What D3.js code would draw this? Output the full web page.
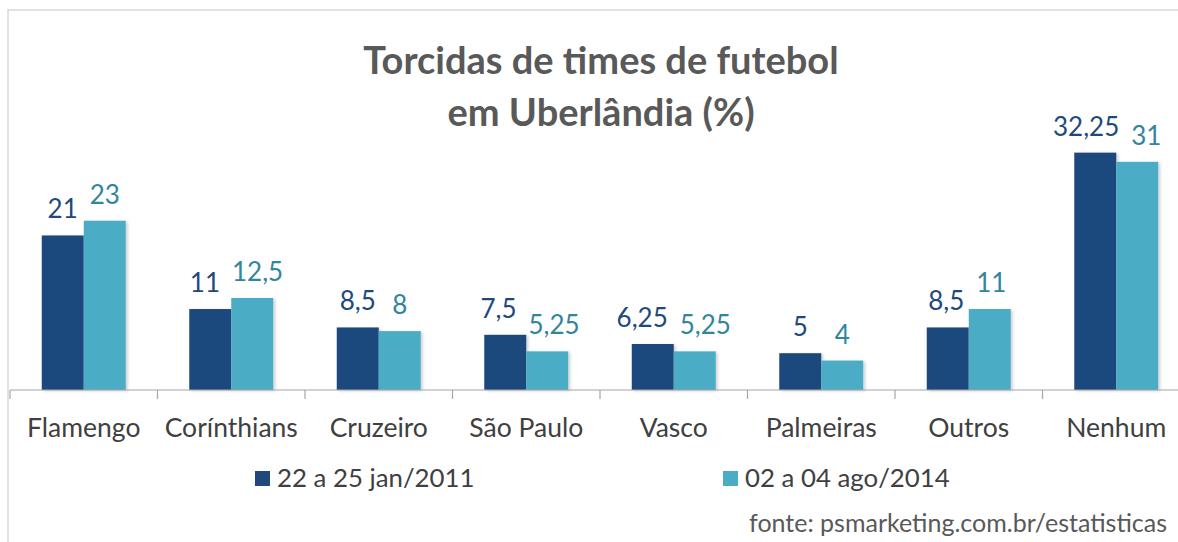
<!DOCTYPE html>
<html>
<head>
<meta charset="utf-8">
<script src="https://cdn.jsdelivr.net/npm/d3@7"></script>
<style>
    body { margin: 0; background: #ffffff; }
    svg { display: block; font-family: Lato, "Noto Sans", sans-serif; }
</style>
</head>
<body>
<div id="chart"></div>
<script>

// data
let categories = ["Flamengo", "Corínthians", "Cruzeiro", "São Paulo", "Vasco", "Palmeiras", "Outros", "Nenhum"];
let seriesNames = ["22 a 25 jan/2011", "02 a 04 ago/2014"];
let values2011 = [21, 11, 8.5, 7.5, 6.25, 5, 8.5, 32.25];
let values2014 = [23, 12.5, 8, 5.25, 5.25, 4, 11, 31];

let barColors = ["#1F497D", "#4BACC6"];
let labelColors = ["#1F497D", "#31859C"];

let width = 1178, height = 542;
let baseline = 390;

let svg = d3.select("#chart").append("svg")
    .attr("width", width)
    .attr("height", height);

// soft shadow like the excel bars
let defs = svg.append("defs");
defs.append("filter")
    .attr("id", "shadow")
    .attr("x", "-20%").attr("y", "-10%")
    .attr("width", "150%").attr("height", "130%")
    .append("feDropShadow")
    .attr("dx", 2).attr("dy", 1)
    .attr("stdDeviation", 1.5)
    .attr("flood-color", "#000")
    .attr("flood-opacity", 0.18);

// chart frame
svg.append("path")
    .attr("d", "M8," + height + " V10 H" + width)
    .attr("fill", "none")
    .attr("stroke", "#d9d9d9")
    .attr("stroke-width", 1.5);

// title
let title = svg.append("text")
    .attr("text-anchor", "middle")
    .attr("fill", "#595959")
    .style("font-size", "38px")
    .style("font-weight", "bold");
title.append("tspan").attr("x", 601).attr("y", 74).text("Torcidas de times de futebol");
title.append("tspan").attr("x", 601).attr("y", 126).text("em Uberlândia (%)");

// scales
let x0 = d3.scaleBand()
    .domain(categories)
    .range([10, 1190])
    .paddingInner(0)
    .paddingOuter(0);

let x1 = d3.scaleBand()
    .domain(seriesNames)
    .range([0, x0.bandwidth()])
    .paddingInner(0)
    .paddingOuter(0.756);

let y = d3.scaleLinear()
    .domain([0, 35])
    .range([baseline, baseline - 7.36 * 35]);

let rows = categories.map(function(c, i) {
    return { cat: c, vals: [values2011[i], values2014[i]] };
});

// bars
let groups = svg.selectAll(".group")
    .data(rows)
    .enter().append("g")
    .attr("class", "group")
    .attr("transform", d => "translate(" + x0(d.cat) + ",0)");

groups.selectAll("rect")
    .data(d => d.vals.map((v, j) => ({ s: seriesNames[j], v: v, j: j })))
    .enter().append("rect")
    .attr("x", d => x1(d.s))
    .attr("y", d => y(d.v))
    .attr("width", x1.bandwidth())
    .attr("height", d => y(0) - y(d.v))
    .attr("fill", d => barColors[d.j])
    .attr("filter", "url(#shadow)");

// value labels, pushed apart when the pair would collide
groups.each(function(d) {
    let g = d3.select(this);
    let labels = d.vals.map(function(v, j) {
        return g.append("text")
            .attr("text-anchor", "middle")
            .attr("fill", labelColors[j])
            .style("font-size", "26px")
            .attr("x", x1(seriesNames[j]) + x1.bandwidth() / 2)
            .attr("y", y(v) - 17)
            .text(String(v).replace(".", ","));
    });
    let c0 = x1(seriesNames[0]) + x1.bandwidth() / 2;
    let c1 = x1(seriesNames[1]) + x1.bandwidth() / 2;
    let w0 = labels[0].node().getComputedTextLength();
    let w1 = labels[1].node().getComputedTextLength();
    let overlap = (c0 + w0 / 2 + 12) - (c1 - w1 / 2);
    if (overlap > 0) {
        labels[0].attr("x", c0 - overlap / 2);
        labels[1].attr("x", c1 + overlap / 2);
    }
});

// x axis: line plus ticks at the category boundaries
let axis = svg.append("g").attr("class", "x-axis");
axis.append("line")
    .attr("x1", 10).attr("x2", width)
    .attr("y1", baseline).attr("y2", baseline)
    .attr("stroke", "#a6a6a6")
    .attr("stroke-width", 1.2);

axis.selectAll(".tick")
    .data(categories)
    .enter().append("line")
    .attr("class", "tick")
    .attr("x1", d => x0(d)).attr("x2", d => x0(d))
    .attr("y1", baseline).attr("y2", baseline + 9)
    .attr("stroke", "#a6a6a6")
    .attr("stroke-width", 1.2);

axis.selectAll(".cat-label")
    .data(categories)
    .enter().append("text")
    .attr("class", "cat-label")
    .attr("x", d => x0(d) + x0.bandwidth() / 2)
    .attr("y", 437)
    .attr("text-anchor", "middle")
    .attr("fill", "#404040")
    .style("font-size", "26.5px")
    .text(d => d);

// legend
let legendX = [255, 723];
let legend = svg.selectAll(".legend")
    .data(seriesNames)
    .enter().append("g")
    .attr("class", "legend")
    .attr("transform", (d, i) => "translate(" + legendX[i] + ",0)");

legend.append("rect")
    .attr("x", 0).attr("y", 471)
    .attr("width", 15).attr("height", 15)
    .attr("fill", (d, i) => barColors[i]);

legend.append("text")
    .attr("x", 22).attr("y", 487)
    .attr("fill", "#404040")
    .style("font-size", "25.8px")
    .text(d => d);

// source note
svg.append("text")
    .attr("x", 1167).attr("y", 532)
    .attr("text-anchor", "end")
    .attr("fill", "#595959")
    .style("font-size", "25px")
    .text("fonte: psmarketing.com.br/estatisticas");

</script>
</body>
</html>
